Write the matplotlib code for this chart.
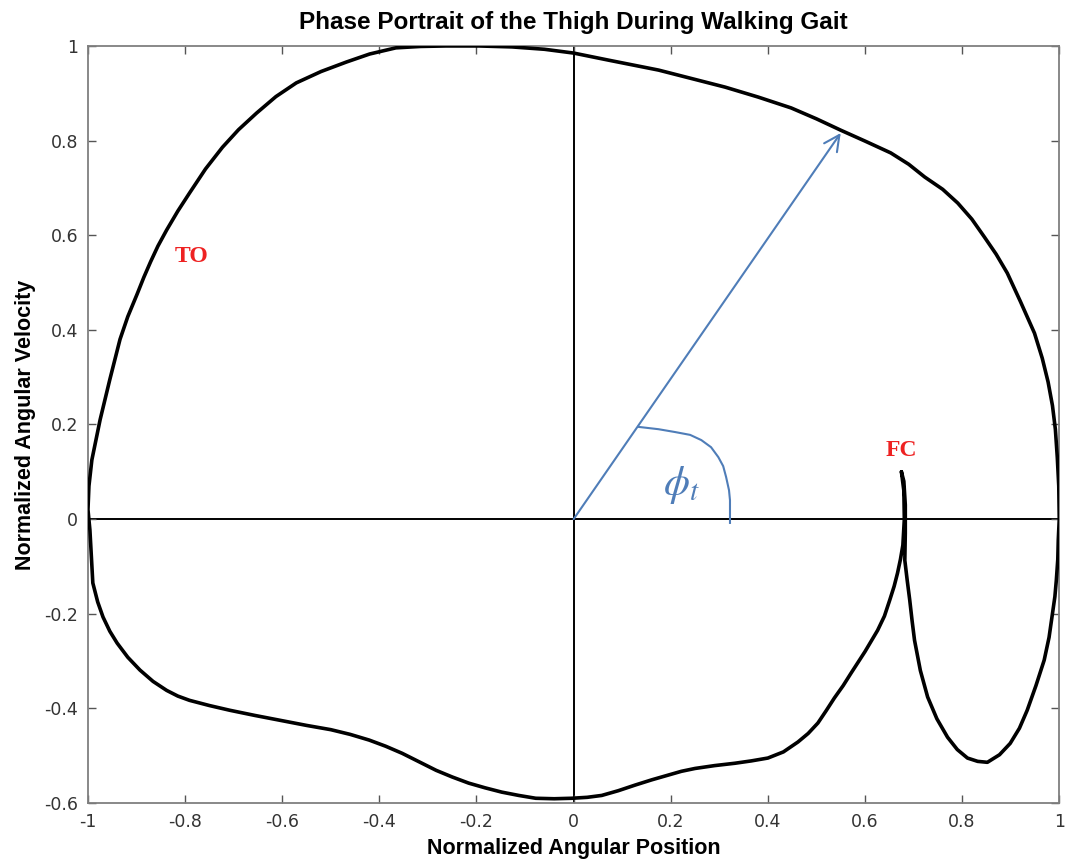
import matplotlib
matplotlib.use("Agg")
import matplotlib.pyplot as plt

plt.rcParams["mathtext.fontset"] = "stix"

# gait cycle traced from foot contact (FC)
pos = [0.675, 0.680, 0.683, 0.683, 0.682, 0.687, 0.692, 0.697, 0.702, 0.714,
       0.729, 0.748, 0.770, 0.790, 0.811, 0.832, 0.852, 0.877, 0.899, 0.918,
       0.934, 0.952, 0.969, 0.979, 0.986, 0.991, 0.994, 0.997, 0.998, 1.000,
       0.999, 0.996, 0.992, 0.986, 0.977, 0.965, 0.949, 0.920, 0.893, 0.870,
       0.846, 0.820, 0.791, 0.760, 0.723, 0.690, 0.653, 0.600, 0.550, 0.500,
       0.448, 0.380, 0.312, 0.240, 0.175, 0.072, 0.000,
       -0.060, -0.127, -0.195, -0.263, -0.315, -0.366, -0.420, -0.468, -0.520,
       -0.571, -0.613, -0.653, -0.690, -0.723, -0.758, -0.791, -0.815, -0.838,
       -0.856, -0.871, -0.885, -0.899, -0.918, -0.934, -0.955, -0.975, -0.992,
       -0.998, -1.000,
       -0.996, -0.993, -0.990, -0.980, -0.969, -0.955, -0.940, -0.918, -0.893,
       -0.866, -0.838, -0.815, -0.791, -0.750, -0.708, -0.656, -0.606, -0.550,
       -0.500, -0.460, -0.421, -0.387, -0.353, -0.318, -0.283, -0.250, -0.216,
       -0.182, -0.148, -0.113, -0.078, -0.040, -0.004, 0.028, 0.058, 0.092,
       0.127, 0.161, 0.195, 0.222, 0.250, 0.290, 0.332, 0.366, 0.400, 0.432,
       0.462, 0.483, 0.503, 0.520, 0.537, 0.555, 0.571, 0.600, 0.626, 0.640,
       0.651, 0.660, 0.667, 0.673, 0.678, 0.681, 0.680, 0.675]
vel = [0.100, 0.080, 0.030, -0.030, -0.087, -0.130, -0.170, -0.215, -0.256, -0.320,
       -0.376, -0.422, -0.461, -0.487, -0.505, -0.512, -0.514, -0.498, -0.474, -0.442,
       -0.404, -0.352, -0.298, -0.250, -0.199, -0.164, -0.129, -0.085, -0.044, 0.000,
       0.070, 0.130, 0.190, 0.240, 0.290, 0.340, 0.393, 0.460, 0.520, 0.560,
       0.596, 0.634, 0.668, 0.697, 0.723, 0.750, 0.774, 0.799, 0.822, 0.846,
       0.869, 0.892, 0.913, 0.932, 0.949, 0.970, 0.985,
       0.993, 0.998, 1.000, 1.000, 0.999, 0.996, 0.983, 0.966, 0.946,
       0.922, 0.893, 0.858, 0.823, 0.786, 0.740, 0.689, 0.651, 0.611,
       0.577, 0.544, 0.511, 0.475, 0.428, 0.380, 0.295, 0.210, 0.125,
       0.070, 0.020,
       -0.023, -0.080, -0.135, -0.175, -0.207, -0.237, -0.262, -0.292, -0.319,
       -0.343, -0.362, -0.374, -0.383, -0.394, -0.404, -0.415, -0.425, -0.436,
       -0.445, -0.455, -0.467, -0.480, -0.495, -0.513, -0.531, -0.545, -0.558,
       -0.568, -0.577, -0.584, -0.590, -0.591, -0.590, -0.588, -0.584, -0.574,
       -0.562, -0.551, -0.541, -0.533, -0.527, -0.521, -0.516, -0.511, -0.505, -0.492,
       -0.471, -0.453, -0.431, -0.405, -0.378, -0.352, -0.326, -0.280, -0.235, -0.205,
       -0.171, -0.142, -0.114, -0.085, -0.055, 0.000, 0.060, 0.100]

# phase-angle annotation
arrow_tip = (0.550, 0.816)
arc_x = [0.133, 0.175, 0.209, 0.240, 0.263, 0.283, 0.298, 0.308, 0.314, 0.320, 0.322, 0.322]
arc_y = [0.195, 0.190, 0.184, 0.178, 0.167, 0.152, 0.131, 0.112, 0.089, 0.061, 0.040, -0.008]

xticks = [-1, -0.8, -0.6, -0.4, -0.2, 0, 0.2, 0.4, 0.6, 0.8, 1]
yticks = [-0.6, -0.4, -0.2, 0, 0.2, 0.4, 0.6, 0.8, 1]

blue = "#4f7db8"
red = "#ee2222"

fig = plt.figure(figsize=(10.65, 8.64), dpi=100)
ax = fig.add_axes([0.0826, 0.0706, 0.9120, 0.8762])

ax.axhline(0, color="black", lw=1.4, zorder=1)
ax.axvline(0, color="black", lw=1.4, zorder=1)
ax.plot(pos, vel, color="black", lw=2.6, solid_joinstyle="round",
        solid_capstyle="round", zorder=3)

ax.annotate("", xy=arrow_tip, xytext=(0, 0),
            arrowprops=dict(arrowstyle="->", color=blue, lw=1.5,
                            mutation_scale=28, shrinkA=0, shrinkB=0))
ax.plot(arc_x, arc_y, color=blue, lw=1.5)
ax.text(0.222, 0.072, r"$\phi_t$", color=blue, fontsize=30,
        ha="center", va="center")

ax.text(-0.786, 0.554, "TO", color=red, fontsize=17, fontweight="bold",
        family="Liberation Serif", ha="center", va="center")
ax.text(0.674, 0.144, "FC", color=red, fontsize=17, fontweight="bold",
        family="Liberation Serif", ha="center", va="center")

ax.set_xlim(-1, 1)
ax.set_ylim(-0.6, 1)
ax.set_xticks(xticks)
ax.set_yticks(yticks)
ax.set_xticklabels([f"{t:g}" for t in xticks])
ax.set_yticklabels([f"{t:g}" for t in yticks])
ax.tick_params(direction="in", length=6, width=1, colors="#555555",
               labelcolor="#333333", labelsize=12.5, top=True, right=True, pad=7)
for s in ax.spines.values():
    s.set_color("#7f7f7f")
    s.set_linewidth(1.3)

ax.set_title("Phase Portrait of the Thigh During Walking Gait",
             fontsize=17.5, fontweight="bold", family="Liberation Sans", pad=12)
ax.set_xlabel("Normalized Angular Position", fontsize=15.5, fontweight="bold",
              family="Liberation Sans", labelpad=5)
ax.set_ylabel("Normalized Angular Velocity", fontsize=15.5, fontweight="bold",
              family="Liberation Sans", labelpad=6)

fig.savefig("out.png", dpi=100)
